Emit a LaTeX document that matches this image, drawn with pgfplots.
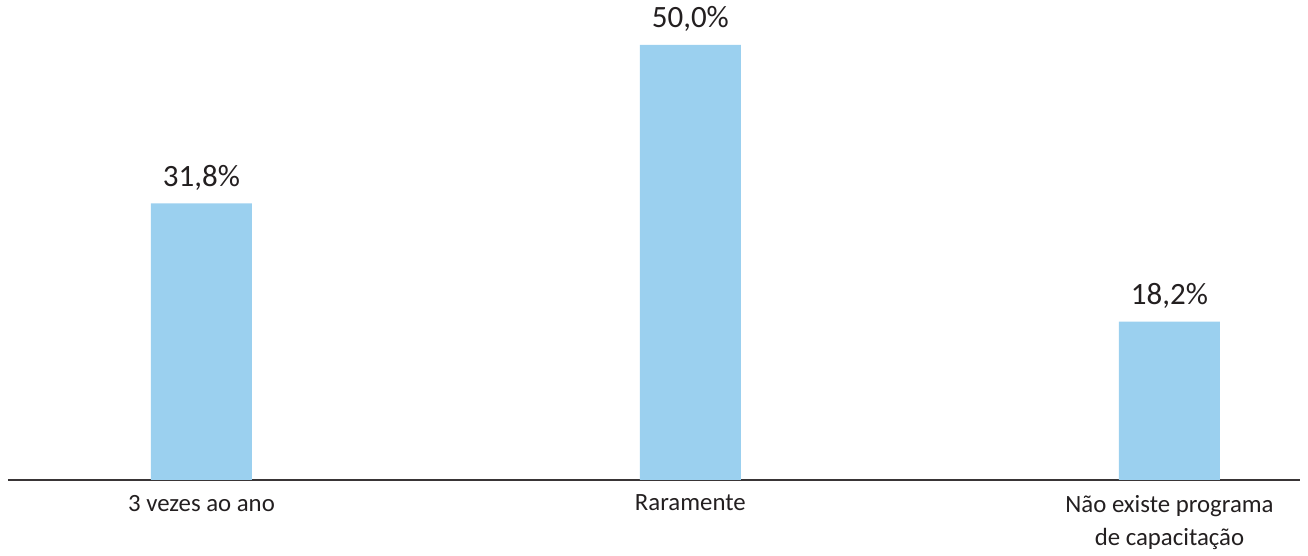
\documentclass[border=0pt]{standalone}
\usepackage{pgfplots}
\pgfplotsset{compat=1.18}
\usepackage{fontspec}
\setmainfont{Carlito}
\definecolor{barblue}{RGB}{155,208,239}
\definecolor{txt}{RGB}{35,31,32}
\begin{document}
\begin{tikzpicture}
\begin{axis}[
    x=242pt, y=4.35pt,
    xmin=-0.4, xmax=2.27,
    ymin=0, ymax=55,
    axis x line=bottom,
    axis y line=none,
    x axis line style={-, line width=1pt, color=txt!90},
    xtick=data,
    xticklabels={3 vezes ao ano, Raramente, {Não existe programa\\de capacitação}},
    xticklabel style={font=\fontsize{12.4}{16.5}\selectfont, color=txt, align=center, yshift=-4pt},
    major tick length=0pt,
    ybar,
    bar width=50.5pt,
    point meta=explicit symbolic,
    nodes near coords,
    nodes near coords style={font=\fontsize{15.5}{18}\selectfont, color=txt, anchor=south, yshift=3pt},
    clip=false,
]
\addplot[fill=barblue, draw=none] coordinates {
    (0,31.8) [31,8\%]
    (1.01,50.0) [50,0\%]
    (2,18.2) [18,2\%]
};
\path (axis cs:-0.4163,-7.47) rectangle (axis cs:2.2862,55.17);
\end{axis}
\end{tikzpicture}
\end{document}
